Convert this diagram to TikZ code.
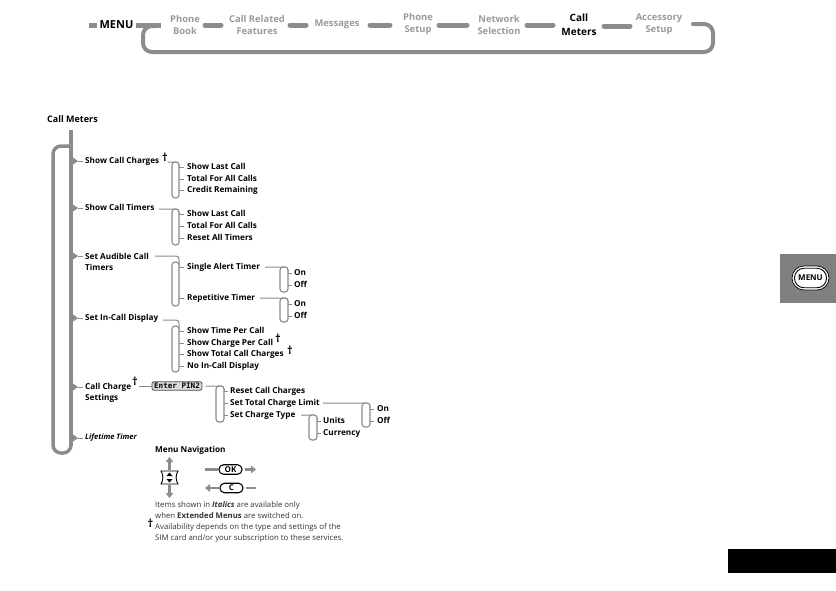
\documentclass[tikz,border=0pt]{standalone}
\usepackage{fontspec}
\setmainfont{Open Sans}
\newfontfamily\lcdfont{DejaVu Sans Mono}
\usetikzlibrary{arrows.meta}
\definecolor{barc}{HTML}{8C8C8C}
\definecolor{graytext}{HTML}{9A9A9A}
\definecolor{tabc}{HTML}{808080}
\definecolor{linec}{HTML}{8A8A8A}
\tikzset{
 x=1pt,y=-1pt,
 topdim/.style={inner sep=0,align=center,text=graytext,font=\fontsize{9.4}{12}\selectfont\bfseries},
 topon/.style={inner sep=0,align=center,text=black,font=\fontsize{10}{14}\selectfont\bfseries},
 lab/.style={inner sep=0,anchor=west,yshift=-0.8pt,text height=6pt,text depth=1.8pt,font=\fontsize{8.2}{11}\selectfont\bfseries},
 lab2/.style={inner sep=0,anchor=west,yshift=-1pt,align=left,font=\fontsize{8.2}{11}\selectfont\bfseries},
 dag/.style={inner sep=0,font=\fontsize{11}{11}\selectfont\bfseries},
 note/.style={inner sep=0,anchor=west,yshift=-0.8pt,text height=6pt,text depth=1.8pt,text=black!80,font=\fontsize{7.8}{9}\selectfont},
 bar/.style={line width=5pt,color=barc,line cap=round},
 loopline/.style={line width=4pt,color=barc},
 trunk/.style={line width=3.5pt,color=barc},
 thin tick/.style={line width=0.9pt,color=linec},
 brk/.style={draw=linec,line width=1.1pt,rounded corners=3pt,fill=white},
 lead/.style={line width=1pt,color=linec,rounded corners=3pt},
 nav/.style={line width=2.2pt,color=barc},
 navtip/.style={line width=2.2pt,color=barc,-{Triangle[length=5pt,width=7.5pt]}},
 pill/.style={draw=black,line width=1.1pt,rounded corners=4.5pt,minimum width=23pt,minimum height=9.5pt,inner sep=0,font=\fontsize{8}{8}\selectfont\bfseries},
}
\newcommand{\tickto}[2]{\fill[barc] (71,#2-5) -- (78,#2) -- (71,#2+5) -- cycle; \draw[thin tick] (78,#2) -- (#1);}
\begin{document}
\begin{tikzpicture}
\useasboundingbox (0,0) rectangle (836,590);
% top menu bar
\node[inner sep=0,font=\fontsize{11}{12}\selectfont\bfseries] (menu) at (116.5,25) {MENU};
\node[topdim] (t1) at (185,25) {Phone\\Book};
\node[topdim] (t2) at (257,25) {Call Related\\Features};
\node[topdim] (t3) at (337,24) {Messages};
\node[topdim] (t4) at (418,24) {Phone\\Setup};
\node[topdim] (t5) at (499,25) {Network\\Selection};
\node[topon] (t6) at (579,25) {Call\\Meters};
\node[topdim] (t7) at (659,24) {Accessory\\Setup};
\coordinate (m0) at (89,25);
\draw[bar,line cap=butt] (m0) -- (97,25);
\draw[bar,line cap=butt] (menu.east) ++(2,0) -- (161,25);
\draw[bar] (205,25) -- (221,25);
\draw[bar] (290,25) -- (306,25);
\draw[bar] (370,25) -- (390,25);
\draw[bar] (439,25) -- (467,25);
\draw[bar] (527,25) -- (553,25);
\draw[bar] (604,26) -- (630,26);
\draw[loopline,line cap=round,rounded corners=9pt] (156,26) -- (143,26) -- (143,52) -- (713,52) -- (713,24) -- (693,24);
% tree title
\node[lab,font=\fontsize{9}{11}\selectfont\bfseries] (title) at (47,120) {Call Meters};
% tree trunk
\coordinate (tr0) at (71,130);
\coordinate (tr1) at (71,446);
\draw[trunk] (tr0) -- (tr1);
\draw[trunk,rounded corners=8pt] (71,146) -- (53,146) -- (53,453) -- (71,453) -- (71,440);
\tickto{83,161}{161}
\tickto{83,208}{208}
\tickto{83,256}{256}
\tickto{83,318}{318}
\tickto{83,387}{387}
\tickto{83,438}{438}
% level 2
\node[lab] (a) at (85,161) {Show Call Charges};
\node[dag] (ad) at (165,157) {†};
\node[lab] (b) at (85,208) {Show Call Timers};
\node[lab2] (c) at (85,261) {Set Audible Call\\Timers};
\node[lab] (d) at (85,318) {Set In-Call Display};
\node[lab2] (e) at (85,392) {Call Charge\\Settings};
\node[dag] (ed) at (135,381) {†};
\node[lab,font=\fontsize{7.5}{9}\selectfont\bfseries\itshape] (f) at (85,437) {Lifetime Timer};
% brackets
\draw[lead] (168,162) -- (179,162) -- (179,168);
\draw[brk] (172,162) rectangle (179,198);
\draw[lead] (159,209) -- (179,209) -- (179,215);
\draw[brk] (172,209) rectangle (179,245);
\draw[lead] (155,256) -- (179,256) -- (179,266);
\draw[brk] (172,262) rectangle (179,306);
\draw[lead] (163,320) -- (179,320) -- (179,330);
\draw[brk] (172,326) rectangle (179,372);
% level 3
\foreach \n/\y/\t in {a1/167/Show Last Call,a2/179/Total For All Calls,a3/190/Credit Remaining,
 b1/214/Show Last Call,b2/226/Total For All Calls,b3/238/Reset All Timers,
 c1/267/Single Alert Timer,c2/298/Repetitive Timer,
 d1/331/Show Time Per Call,d2/343/Show Charge Per Call,d3/354/Show Total Call Charges,d4/366/No In-Call Display}{
 \node[lab] (\n) at (187,\y) {\t};
 \coordinate (\n t) at (179,\y);
 \coordinate (\n e) at (184,\y);
 \draw[thin tick] (\n t) -- (\n e);
}
\node[dag] (d2d) at (278,338) {†};
\node[dag] (d3d) at (290,350) {†};
% single alert / repetitive
\coordinate (c1r) at (265,267);
\coordinate (c2r) at (260,298);
\draw[lead] (c1r) -- (288,267) -- (288,272);
\draw[brk] (280,267) rectangle (288,292);
\draw[lead] (c2r) -- (288,298) -- (288,303);
\draw[brk] (280,298) rectangle (288,322);
\foreach \n/\y/\t in {c1a/273/On,c1b/285/Off,c2a/304/On,c2b/316/Off}{
 \node[lab] (\n) at (294,\y) {\t};
 \coordinate (\n e) at (292,\y);
 \draw[thin tick] (288,\y) -- (\n e);
}
% charge settings
\node[draw=black!70,fill=black!15,line width=.8pt,rounded corners=2pt,inner sep=0,minimum width=50pt,minimum height=8.5pt,text height=5pt,text depth=0pt,font=\fontsize{7.6}{8}\lcdfont\bfseries\selectfont] (pin) at (177,386) {Enter PIN2};
\draw[lead] (139,386) -- (pin.west);
\draw[lead] (pin.east) ++(3,0) -- (224,386) -- (224,391);
\draw[brk] (216,386) rectangle (224,422);
\foreach \n/\y/\t in {e1/391/Reset Call Charges,e2/403/Set Total Charge Limit,e3/415/Set Charge Type}{
 \node[lab] (\n) at (230,\y) {\t};
 \coordinate (\n e) at (228,\y);
 \draw[thin tick] (224,\y) -- (\n e);
}
\coordinate (e2r) at (323,403);
\coordinate (e3r) at (301,415);
\draw[lead] (e2r) -- (370,403) -- (370,408);
\draw[brk] (362,403) rectangle (370,427);
\foreach \n/\y/\t in {e2a/409/On,e2b/421/Off}{
 \node[lab] (\n) at (377,\y) {\t};
 \coordinate (\n e) at (374,\y);
 \draw[thin tick] (370,\y) -- (\n e);
}
\draw[lead] (e3r) -- (317,415) -- (317,420);
\draw[brk] (309,415) rectangle (317,440);
\foreach \n/\y/\t in {e3a/421/Units,e3b/433/Currency}{
 \node[lab] (\n) at (323,\y) {\t};
 \coordinate (\n e) at (321,\y);
 \draw[thin tick] (317,\y) -- (\n e);
}
% navigation legend
\node[lab] (navt) at (155,450) {Menu Navigation};
\coordinate (soft) at (169.5,477.5);
\coordinate (softn) at (169.5,471);
\coordinate (softs) at (169.5,484);
\draw[black,line width=.9pt] (161,471) -- (178,471) .. controls (175.5,475) and (175.5,480) .. (178,484) -- (161,484) .. controls (163.5,480) and (163.5,475) .. (161,471) -- cycle;
\fill (166.5,476) -- (172.5,476) -- (169.5,472.5) -- cycle;
\fill (166.5,479) -- (172.5,479) -- (169.5,482.5) -- cycle;
\draw[navtip] ([yshift=1pt]softn) -- ++(0,-13);
\draw[navtip] ([yshift=-1pt]softs) -- ++(0,13);
\node[pill] (ok) at (230.5,469.5) {OK};
\node[pill] (cc) at (231.5,488) {C};
\coordinate (ok0) at (205,469.5);
\coordinate (ok1) at (256,469.5);
\coordinate (c0) at (205,488);
\coordinate (c1e) at (256,488);
\draw[nav] (ok0) -- (ok.west);
\draw[navtip] ([xshift=2pt]ok.east) -- (ok1);
\draw[nav] ([xshift=2pt]cc.east) -- (c1e);
\draw[navtip] (cc.west) -- (c0);
\node[note] (n1) at (155,505) {Items shown in \textbf{\textit{Italics}} are available only};
\node[note] (n2) at (155,515.5) {when \textbf{Extended Menus} are switched on.};
\node[dag] (n3d) at (150.5,523) {†};
\node[note] (n3) at (155,527) {Availability depends on the type and settings of the};
\node[note] (n4) at (155,537.5) {SIM card and/or your subscription to these services.};
% right tab
\fill[tabc] (780,254) rectangle (836,303);
\node[draw=black,fill=white,line width=.7pt,rounded corners=12pt,minimum width=37pt,minimum height=24pt,inner sep=0] (mbtn) at (810.5,278) {};
\node[draw=black,line width=.9pt,rounded corners=9.5pt,minimum width=32pt,minimum height=19.5pt,inner sep=0,font=\fontsize{8}{8}\selectfont\bfseries] (mb2) at (810.5,278) {MENU};
\fill[black] (728,549) rectangle (836,572.7);
\end{tikzpicture}
\end{document}
